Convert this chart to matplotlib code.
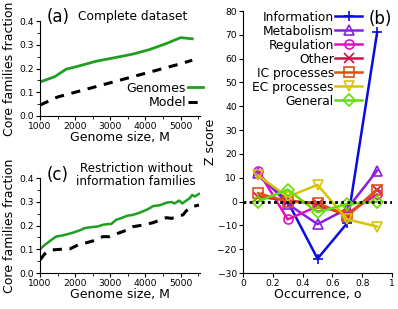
import matplotlib
matplotlib.use("Agg")
import matplotlib.pyplot as plt
from matplotlib.ticker import MultipleLocator

# (a) complete dataset
a_x = [1000, 1425, 1740, 2040, 2610, 3175, 3650, 4120, 4590, 5000, 5330]
a_genomes = [0.143, 0.166, 0.197, 0.208, 0.231, 0.247, 0.261, 0.280, 0.305, 0.330, 0.325]
a_model_x = [1000, 1500, 2000, 2500, 3000, 3500, 4000, 4500, 5000, 5330]
a_model = [0.046, 0.080, 0.100, 0.120, 0.140, 0.160, 0.180, 0.200, 0.220, 0.235]

# (c) without information families
c_x = [1000, 1132, 1321, 1463, 1605, 1794, 1983, 2172, 2267, 2456, 2645, 2787,
       2929, 3024, 3166, 3307, 3478, 3648, 3837, 4026, 4121, 4216, 4405, 4594,
       4736, 4830, 4953, 5048, 5161, 5256, 5331, 5398, 5520]
c_genomes = [0.100, 0.118, 0.139, 0.154, 0.157, 0.164, 0.172, 0.182, 0.189, 0.193,
             0.196, 0.203, 0.206, 0.206, 0.224, 0.231, 0.241, 0.245, 0.254, 0.266,
             0.273, 0.282, 0.285, 0.296, 0.299, 0.293, 0.305, 0.293, 0.305, 0.315,
             0.329, 0.322, 0.333]
c_model_x = [1000, 1130, 1321, 1605, 1841, 2078, 2267, 2503, 2787, 2976, 3213,
             3478, 3648, 3932, 4216, 4358, 4594, 4736, 4925, 5068, 5161, 5303, 5520]
c_model = [0.055, 0.080, 0.097, 0.100, 0.101, 0.118, 0.125, 0.135, 0.153, 0.153,
           0.167, 0.181, 0.195, 0.202, 0.212, 0.220, 0.233, 0.230, 0.237, 0.245,
           0.262, 0.279, 0.286]

# (b) Z scores
occ = [0.1, 0.3, 0.5, 0.7, 0.9]
z_info = [11, 0, -24, -9, 71]
z_metab = [12, -1, -9.5, -3, 13]
z_regul = [13, -7.5, -2, -5, 3]
z_other = [2, 0.5, -1, -6, 5]
z_ic = [3.5, 0, -0.5, -6, 5]
z_ec = [11, 2, 7, -7.5, -10.5]
z_general = [0, 5, -4.5, -1, 0]

series = [
    ("Information", z_info, "#0a0ae6", "+"),
    ("Metabolism", z_metab, "#8a1ee0", "^"),
    ("Regulation", z_regul, "#e010c0", "o"),
    ("Other", z_other, "#d0104a", "x"),
    ("IC processes", z_ic, "#e05010", "s"),
    ("EC processes", z_ec, "#d8c400", "v"),
    ("General", z_general, "#66dd00", "D"),
]

plt.rcParams["font.family"] = "DejaVu Sans"
fig = plt.figure(figsize=(3.98, 3.09), dpi=100)

ax_a = fig.add_axes([0.1005, 0.6246, 0.402, 0.3074])
ax_c = fig.add_axes([0.1005, 0.1165, 0.402, 0.3074])
ax_b = fig.add_axes([0.6106, 0.1165, 0.3744, 0.8479])

green = "#1f9f1f"
for ax in (ax_a, ax_c):
    ax.set_xlim(1000, 5550)
    ax.set_ylim(0, 0.4)
    ax.xaxis.set_major_locator(MultipleLocator(1000))
    ax.xaxis.set_minor_locator(MultipleLocator(500))
    ax.yaxis.set_major_locator(MultipleLocator(0.1))
    ax.yaxis.set_minor_locator(MultipleLocator(0.05))
    ax.set_xlabel("Genome size, M", fontsize=9, labelpad=0)
    ax.set_ylabel("Core families fraction", fontsize=9, labelpad=2)

for ax in (ax_a, ax_c, ax_b):
    ax.spines["top"].set_visible(False)
    ax.spines["right"].set_visible(False)
    ax.tick_params(direction="out", length=3, width=0.8, labelsize=6.6, pad=1.5)
    ax.tick_params(which="minor", direction="out", length=2, width=0.6)
    ax.patch.set_alpha(0)

ax_a.plot(a_x, a_genomes, color=green, lw=2, label="Genomes")
ax_a.plot(a_model_x, a_model, color="black", lw=2.2, ls=(0, (3, 2.5)), label="Model")
ax_a.legend(loc="lower right", bbox_to_anchor=(1.05, 0.02), frameon=False, fontsize=9,
            markerfirst=False, handlelength=1.2, handletextpad=0.15, labelspacing=0.1,
            borderaxespad=0)

ax_c.plot(c_x, c_genomes, color=green, lw=1.8)
ax_c.plot(c_model_x, c_model, color="black", lw=2.2, ls=(0, (3, 2.5)))

fig.text(0.118, 0.945, "(a)", fontsize=12, va="center")
fig.text(0.195, 0.945, "Complete dataset", fontsize=8.8, va="center")
fig.text(0.118, 0.434, "(c)", fontsize=12, va="center")
fig.text(0.342, 0.434, "Restriction without\ninformation families", fontsize=8.6,
         va="center", ha="center", linespacing=0.95)

for name, vals, col, mk in series:
    ax_b.plot(occ, vals, color=col, lw=1.8, marker=mk, ms=6.5, mfc="none",
              mew=1.2, label=name)
ax_b.axhline(0, color="black", lw=2, ls=(0, (1, 1.2)))
ax_b.set_xlim(0, 1)
ax_b.set_ylim(-30, 80)
ax_b.yaxis.set_major_locator(MultipleLocator(10))
ax_b.set_xticks([0, 0.2, 0.4, 0.6, 0.8, 1.0])
ax_b.set_xticklabels(["0", "0.2", "0.4", "0.6", "0.8", "1"])
ax_b.set_xlabel("Occurrence, o", fontsize=9, labelpad=0)
ax_b.set_ylabel("Z score", fontsize=9, labelpad=0)
ax_b.legend(loc="upper left", bbox_to_anchor=(0.03, 1.02), frameon=False, fontsize=8.8,
            markerfirst=False, handlelength=2.2, handletextpad=0.1, labelspacing=0.08,
            borderaxespad=0)
fig.text(0.925, 0.94, "(b)", fontsize=12, va="center")

fig.savefig("out.png", dpi=100)
